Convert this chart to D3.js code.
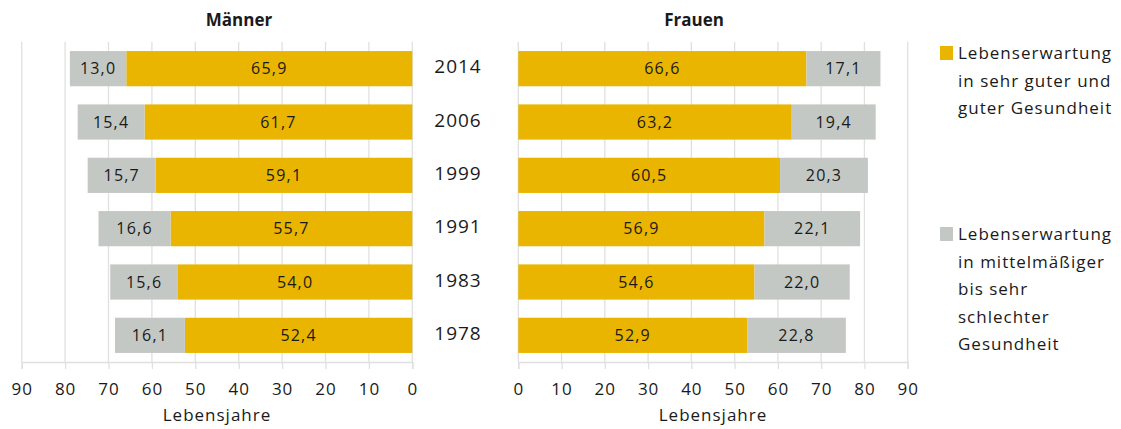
<!DOCTYPE html>
<html>
<head>
<meta charset="utf-8">
<script src="https://cdn.jsdelivr.net/npm/d3@7"></script>
<style>
  body { margin: 0; background: #fff; }
  svg text { font-family: "Open Sans", "DejaVu Sans", sans-serif; fill: #1a1a1a; }
</style>
</head>
<body>
<svg id="chart" width="1121" height="429"></svg>
<script>
const years = ["2014", "2006", "1999", "1991", "1983", "1978"];
const menGood = [65.9, 61.7, 59.1, 55.7, 54.0, 52.4];
const menBad = [13.0, 15.4, 15.7, 16.6, 15.6, 16.1];
const womenGood = [66.6, 63.2, 60.5, 56.9, 54.6, 52.9];
const womenBad = [17.1, 19.4, 20.3, 22.1, 22.0, 22.8];
const ticks = [0, 10, 20, 30, 40, 50, 60, 70, 80, 90];
const legendGood = ["Lebenserwartung", "in sehr guter und", "guter Gesundheit"];
const legendBad = ["Lebenserwartung", "in mittelmäßiger", "bis sehr", "schlechter", "Gesundheit"];

const gold = "#e9b500", grey = "#c3c8c4", gridCol = "#e0e0e0";
const svg = d3.select("#chart");

const y = d3.scaleBand().domain(years).range([42, 362]).paddingInner(0.34).paddingOuter(0.17);

const fmt = v => v.toFixed(1).replace(".", ",");

function panel(xScale, good, bad, title, titleX) {
	const g = svg.append("g");

	// grid
	g.selectAll("line.grid")
		.data(ticks)
		.enter()
		.append("line")
		.attr("x1", d => xScale(d)).attr("x2", d => xScale(d))
		.attr("y1", 42).attr("y2", 362)
		.attr("stroke", gridCol).attr("stroke-width", 1.3);

	// axis
	const axis = g.append("g").attr("transform", "translate(0,362)")
		.call(d3.axisBottom(xScale).tickValues(ticks).tickSize(7).tickPadding(14));
	axis.select(".domain").attr("stroke", gridCol).attr("stroke-width", 1.5);
	axis.selectAll(".tick line").attr("stroke", gridCol).attr("stroke-width", 1.3);
	axis.selectAll(".tick text").attr("font-size", 17).attr("letter-spacing", 1)
		.attr("font-family", "Open Sans, DejaVu Sans, sans-serif").attr("fill", "#1a1a1a");

	g.append("text").attr("x", (xScale(0) + xScale(90)) / 2).attr("y", 421)
		.attr("text-anchor", "middle").attr("font-size", 17).attr("letter-spacing", 1).text("Lebensjahre");

	g.append("text").attr("x", titleX).attr("y", 26)
		.attr("text-anchor", "middle").attr("font-size", 17).attr("font-weight", "bold").text(title);

	const rows = g.selectAll("g.row")
		.data(years)
		.enter()
		.append("g");

	rows.append("rect")
		.attr("x", (d, i) => Math.min(xScale(0), xScale(good[i])))
		.attr("width", (d, i) => Math.abs(xScale(good[i]) - xScale(0)))
		.attr("y", d => y(d)).attr("height", y.bandwidth())
		.attr("fill", gold);

	rows.append("rect")
		.attr("x", (d, i) => Math.min(xScale(good[i]), xScale(good[i] + bad[i])))
		.attr("width", (d, i) => Math.abs(xScale(good[i] + bad[i]) - xScale(good[i])))
		.attr("y", d => y(d)).attr("height", y.bandwidth())
		.attr("fill", grey);

	rows.append("text")
		.attr("x", (d, i) => xScale(good[i] / 2))
		.attr("y", d => y(d) + y.bandwidth() / 2 + 5.5)
		.attr("text-anchor", "middle").attr("font-size", 16).attr("letter-spacing", 1.2)
		.text((d, i) => fmt(good[i]));

	rows.append("text")
		.attr("x", (d, i) => xScale(good[i] + bad[i] / 2))
		.attr("y", d => y(d) + y.bandwidth() / 2 + 5.5)
		.attr("text-anchor", "middle").attr("font-size", 16).attr("letter-spacing", 1.2)
		.text((d, i) => fmt(bad[i]));
}

const xMen = d3.scaleLinear().domain([0, 90]).range([412.3, 21.7]);
const xWomen = d3.scaleLinear().domain([0, 90]).range([518.3, 907.7]);

panel(xMen, menGood, menBad, "Männer", 239);
panel(xWomen, womenGood, womenBad, "Frauen", 694);

// year labels
svg.selectAll("text.year")
	.data(years)
	.enter()
	.append("text")
	.attr("x", 458).attr("y", d => y(d) + y.bandwidth() / 2 + 4.5)
	.attr("text-anchor", "middle").attr("font-size", 19).attr("letter-spacing", 1)
	.text(d => d);

// legend
function legend(color, lines, top) {
	svg.append("rect").attr("x", 940).attr("y", top).attr("width", 13).attr("height", 14).attr("fill", color);
	svg.append("g").selectAll("text")
		.data(lines)
		.enter()
		.append("text")
		.attr("x", 958).attr("y", (d, i) => top + 13 + i * 27.6)
		.attr("font-size", 17).attr("letter-spacing", 1)
		.text(d => d);
}
legend(gold, legendGood, 46);
legend(grey, legendBad, 227);
</script>
</body>
</html>
